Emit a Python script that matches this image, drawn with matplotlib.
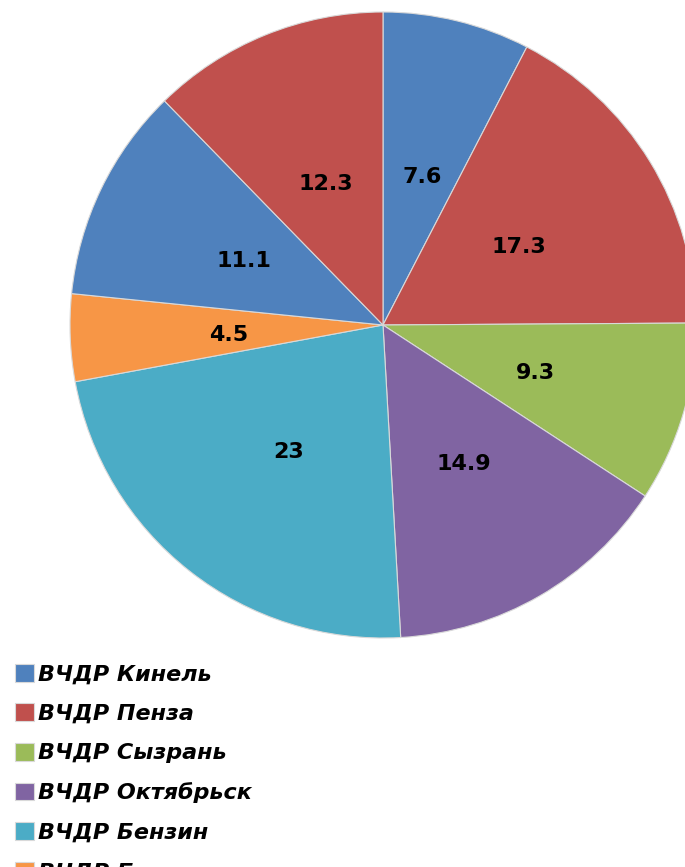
import matplotlib
matplotlib.use("Agg")
import matplotlib.pyplot as plt

labels = ["ВЧДР Кинель", "ВЧДР Пенза", "ВЧДР Сызрань", "ВЧДР Октябрьск",
          "ВЧДР Бензин", "ВЧДР Безымянка", "ВЧДР Кинель-2", "ВЧДР Пенза-2"]
values = [7.6, 17.3, 9.3, 14.9, 23, 4.5, 11.1, 12.3]
colors = ["#4F81BD", "#C0504D", "#9BBB59", "#8064A2", "#4BACC6", "#F79646",
          "#4F81BD", "#C0504D"]

W, H = 685, 867
fig = plt.figure(figsize=(W / 100, H / 100), dpi=100)
ax = fig.add_axes([0, 0, 1, 1])

cx, cy, R = 383, H - 325, 313
wedges, texts = ax.pie(values, colors=colors, startangle=90, counterclock=False,
                       center=(cx, cy), radius=R, labels=[str(v) for v in values],
                       labeldistance=0.5, frame=True,
                       wedgeprops=dict(edgecolor="#d9d9d9", linewidth=0.8))
ax.set_xlim(0, W)
ax.set_ylim(0, H)
ax.set_aspect("equal")
ax.axis("off")
for t in texts:
    x, y = t.get_position()
    t.set_position((x + 2, y - 4))
    t.set_fontsize(16)
    t.set_fontweight("bold")
    t.set_family("DejaVu Sans")
    t.set_color("#000000")
    t.set_ha("center")
    t.set_va("center")

leg = ax.legend(wedges, labels, loc="upper left",
                bbox_to_anchor=(15 / W, 1 - 664 / H), bbox_transform=fig.transFigure,
                frameon=False, borderpad=0, borderaxespad=0,
                handlelength=0.85, handleheight=0.85, handletextpad=0.2,
                labelspacing=0.85,
                prop=dict(family="DejaVu Sans", weight="bold", style="oblique", size=16))
fig.savefig("out.png", dpi=100)
